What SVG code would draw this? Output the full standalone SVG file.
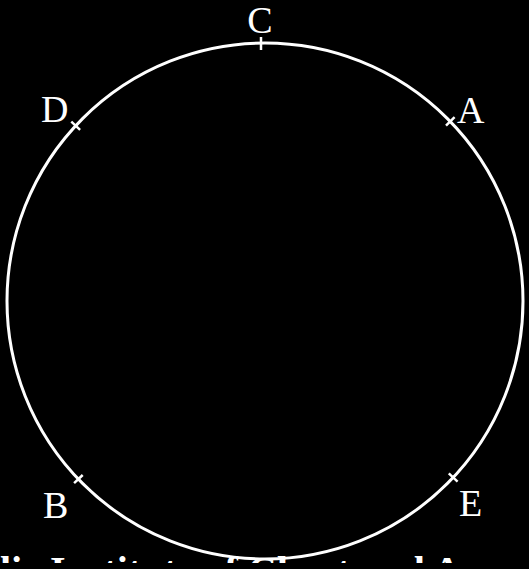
<svg xmlns="http://www.w3.org/2000/svg" width="529" height="569" viewBox="0 0 529 569">
  <defs>
    <style>
      .lbl { font-family: "Liberation Serif", "Times New Roman", serif; font-size: 38px; fill: #ffffff; }
      .tick { stroke: #ffffff; stroke-width: 2.5; stroke-linecap: butt; }
      .wm { font-family: "Liberation Serif", "Times New Roman", serif; font-size: 40px; font-weight: bold; fill: #ffffff; }
    </style>
    <clipPath id="bottomClip">
      <rect x="0" y="0" width="529" height="563"/>
    </clipPath>
  </defs>
  <rect x="0" y="0" width="529" height="569" fill="#000000"/>
  <g id="circle">
    <circle cx="265" cy="301" r="258" fill="none" stroke="#ffffff" stroke-width="3"/>
  </g>
  <g id="connectors">
    <line class="tick" x1="261" y1="37" x2="261" y2="50"/>
    <line class="tick" x1="71.3" y1="121.6" x2="80.1" y2="129.8"/>
    <line class="tick" x1="454.6" y1="117.2" x2="446.0" y2="125.6"/>
    <line class="tick" x1="74.1" y1="483.2" x2="82.7" y2="475.0"/>
    <line class="tick" x1="457.6" y1="481.6" x2="448.8" y2="473.4"/>
  </g>
  <g id="node-C"><text class="lbl" x="260" y="33" text-anchor="middle">C</text></g>
  <g id="node-D"><text class="lbl" x="41" y="122">D</text></g>
  <g id="node-A"><text class="lbl" x="457" y="123">A</text></g>
  <g id="node-B"><text class="lbl" x="43" y="518">B</text></g>
  <g id="node-E"><text class="lbl" x="459" y="516">E</text></g>
  <g id="watermark" clip-path="url(#bottomClip)">
    <text class="wm" x="0" y="584">lic Institute of Chartered Accountants</text>
  </g>
</svg>
